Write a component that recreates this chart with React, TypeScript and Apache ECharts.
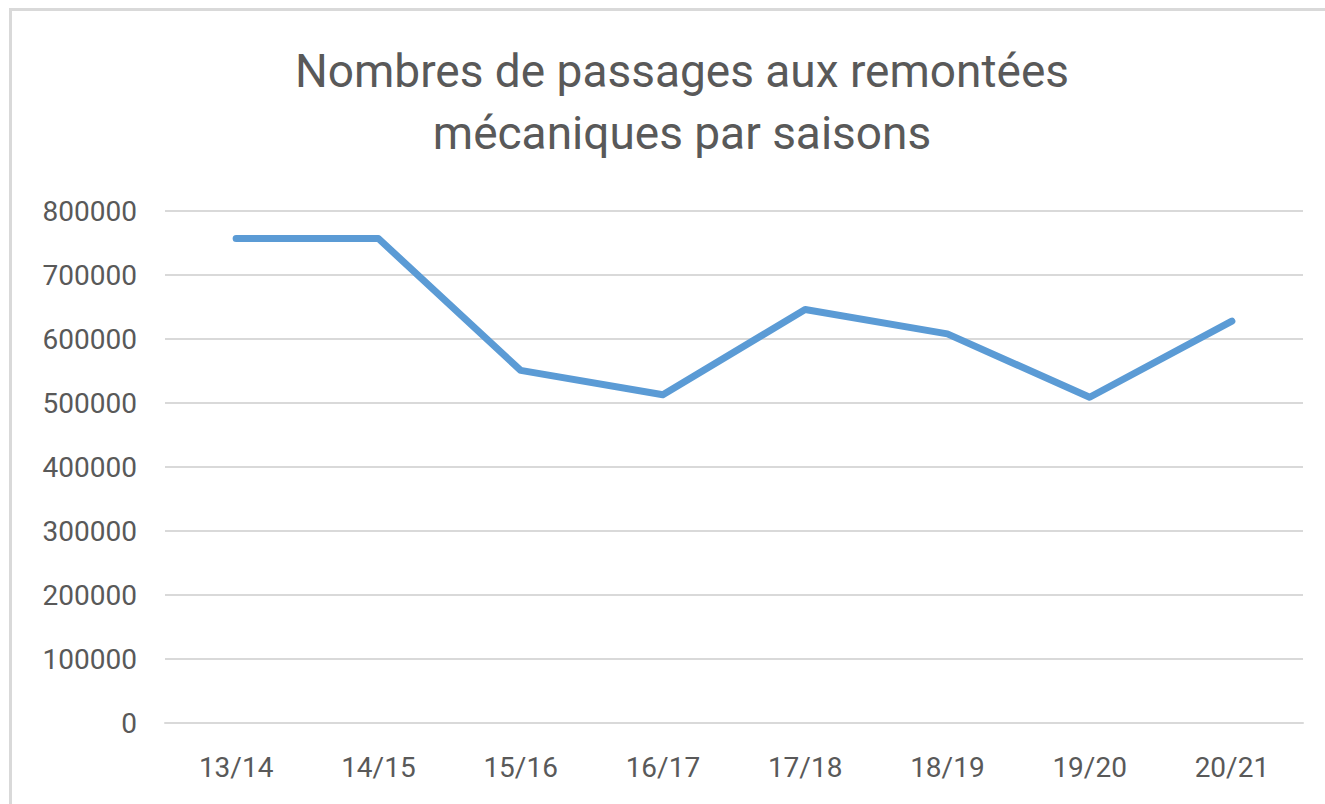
import React, { useEffect, useRef } from "react";
import * as echarts from "echarts";

const seasons = ["13/14", "14/15", "15/16", "16/17", "17/18", "18/19", "19/20", "20/21"];
const passages = [757000, 757000, 551000, 513000, 646000, 608000, 509000, 628000];
const titleText = "Nombres de passages aux remontées\nmécaniques par saisons";

export default function App() {
  const ref = useRef<HTMLDivElement>(null);
  useEffect(() => {
    document.body.style.margin = "0";
    const chart = echarts.init(ref.current!, null, { renderer: "svg" });
    const font = "Roboto";
    const textColor = "#595959";
    chart.setOption({
      animation: false,
      backgroundColor: "#ffffff",
      title: {
        text: titleText,
        left: 677,
        top: 35,
        textAlign: "center",
        textStyle: {
          fontFamily: font,
          fontSize: 46,
          fontWeight: "normal",
          color: textColor,
          lineHeight: 62,
        },
      },
      graphic: [
        { type: "rect", shape: { x: 9, y: 8, width: 1316, height: 3 }, style: { fill: "#d9d9d9" }, silent: true },
        { type: "rect", shape: { x: 9, y: 8, width: 3, height: 796 }, style: { fill: "#d9d9d9" }, silent: true },
      ],
      grid: { left: 165, right: 22, top: 211, bottom: 81, containLabel: false },
      xAxis: {
        type: "category",
        data: seasons,
        boundaryGap: true,
        axisLine: { show: true, lineStyle: { color: "#d9d9d9", width: 2 } },
        axisTick: { show: false },
        axisLabel: { fontFamily: font, fontSize: 28, color: textColor, margin: 30 },
      },
      yAxis: {
        type: "value",
        min: 0,
        max: 800000,
        interval: 100000,
        axisLine: { show: false },
        axisTick: { show: false },
        axisLabel: {
          fontFamily: font,
          fontSize: 28,
          color: textColor,
          margin: 28,
          formatter: (v: number) => String(v),
        },
        splitLine: { show: true, lineStyle: { color: "#d9d9d9", width: 2 } },
      },
      series: [
        {
          type: "line",
          data: passages,
          symbol: "none",
          lineStyle: { color: "#5b9bd5", width: 7, cap: "round", join: "round" },
        },
      ],
    });
    return () => chart.dispose();
  }, []);
  return <div ref={ref} style={{ position: "absolute", left: 0, top: 0, width: 1325, height: 804 }} />;
}
